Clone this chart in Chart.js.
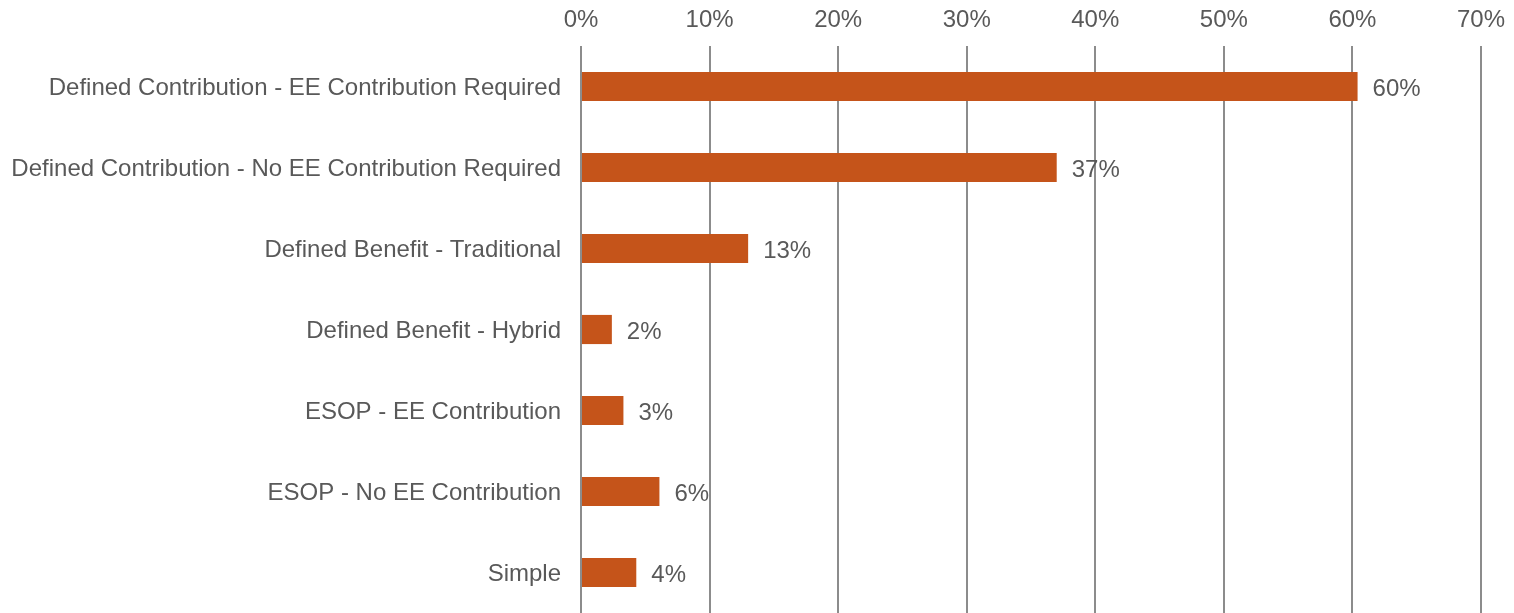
<!DOCTYPE html>
<html>
<head>
<meta charset="utf-8">
<script src="https://cdn.jsdelivr.net/npm/chart.js@4/dist/chart.umd.min.js"></script>
<style>
  html, body { margin: 0; padding: 0; background: #fff; overflow: hidden; }
  canvas { display: block; }
</style>
</head>
<body>
<canvas id="myChart" width="1514" height="613"></canvas>
<script>
// plan types and share of respondents (%)
var planTypes = [
  "Defined Contribution - EE Contribution Required",
  "Defined Contribution - No EE Contribution Required",
  "Defined Benefit - Traditional",
  "Defined Benefit - Hybrid",
  "ESOP - EE Contribution",
  "ESOP - No EE Contribution",
  "Simple"
];
var shares = [60.4, 37.0, 13.0, 2.4, 3.3, 6.1, 4.3];
var axisTicks = [0, 10, 20, 30, 40, 50, 60, 70];

var textColor = "#595959";
var barColor = "#C5541A";
var font = { family: "'Liberation Sans', Arial, sans-serif", size: 24 };

// writes the rounded value just past the end of each bar
var valueLabels = {
  id: "valueLabels",
  afterDatasetsDraw: function(chart){
    var ctx = chart.ctx;
    var meta = chart.getDatasetMeta(0);
    ctx.save();
    ctx.font = font.size + "px " + font.family;
    ctx.fillStyle = textColor;
    ctx.textAlign = "left";
    ctx.textBaseline = "middle";
    meta.data.forEach(function(bar, i){
      ctx.fillText(Math.round(shares[i]) + "%", bar.x + 15, bar.y + 3);
    });
    ctx.restore();
  }
};

var ctx = document.getElementById("myChart").getContext("2d");
var myChart = new Chart(ctx, {
  type: "bar",
  data: {
    labels: planTypes,
    datasets: [{
      data: shares,
      backgroundColor: barColor,
      barPercentage: 0.72,
      categoryPercentage: 0.5
    }]
  },
  options: {
    indexAxis: "y",
    responsive: false,
    animation: false,
    devicePixelRatio: 1,
    layout: { padding: { left: 0, right: 33, top: 0, bottom: 0 } },
    plugins: {
      legend: { display: false },
      tooltip: { enabled: false }
    },
    scales: {
      x: {
        position: "top",
        min: 0,
        max: 70,
        afterBuildTicks: function(scale){
          scale.ticks = axisTicks.map(function(v){ return { value: v }; });
        },
        afterFit: function(scale){
          scale.height = 46;
          scale.paddingLeft = 0;
          scale.paddingRight = 0;
        },
        border: { display: false },
        grid: { color: "#8C8C8C", lineWidth: 2, drawTicks: false },
        ticks: {
          color: textColor,
          font: font,
          padding: 11,
          maxRotation: 0,
          callback: function(v){ return v + "%"; }
        }
      },
      y: {
        afterFit: function(scale){
          scale.width = 581;
          scale.paddingTop = 0;
          scale.paddingBottom = 0;
        },
        border: { display: false },
        grid: { display: false, drawTicks: false },
        ticks: { color: textColor, font: font, padding: 20, labelOffset: 2 }
      }
    }
  },
  plugins: [valueLabels]
});
</script>
</body>
</html>
